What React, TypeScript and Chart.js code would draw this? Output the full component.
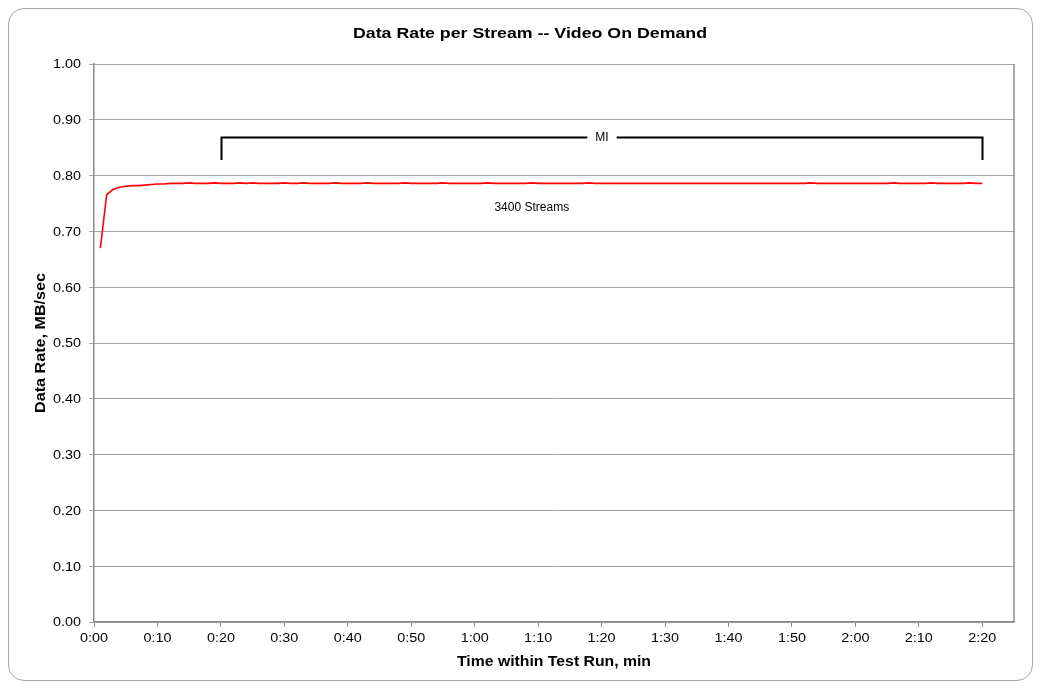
import React, { useEffect, useRef } from "react";
import { Chart, registerables } from "chart.js";

Chart.register(...registerables);

// Data rate per stream, MB/sec, one reading per second starting at 0:01
const rateValues: number[] = [
  0.670, 0.766, 0.775, 0.779, 0.781, 0.782, 0.782, 0.783, 0.784, 0.785,
  0.785, 0.786, 0.786, 0.786, 0.787, 0.786, 0.786, 0.786, 0.787, 0.786,
  0.786, 0.786, 0.787, 0.786, 0.787, 0.786, 0.786, 0.786, 0.786, 0.787,
  0.786, 0.786, 0.787, 0.786, 0.786, 0.786, 0.786, 0.787, 0.786, 0.786,
  0.786, 0.786, 0.787, 0.786, 0.786, 0.786, 0.786, 0.786, 0.787, 0.786,
  0.786, 0.786, 0.786, 0.786, 0.787, 0.786, 0.786, 0.786, 0.786, 0.786,
  0.786, 0.787, 0.786, 0.786, 0.786, 0.786, 0.786, 0.786, 0.787, 0.786,
  0.786, 0.786, 0.786, 0.786, 0.786, 0.786, 0.786, 0.787, 0.786, 0.786,
  0.786, 0.786, 0.786, 0.786, 0.786, 0.786, 0.786, 0.786, 0.786, 0.786,
  0.786, 0.786, 0.786, 0.786, 0.786, 0.786, 0.786, 0.786, 0.786, 0.786,
  0.786, 0.786, 0.786, 0.786, 0.786, 0.786, 0.786, 0.786, 0.786, 0.786,
  0.786, 0.786, 0.787, 0.786, 0.786, 0.786, 0.786, 0.786, 0.786, 0.786,
  0.786, 0.786, 0.786, 0.786, 0.786, 0.787, 0.786, 0.786, 0.786, 0.786,
  0.786, 0.787, 0.786, 0.786, 0.786, 0.786, 0.786, 0.787, 0.786, 0.786,
];
const secondsAxis: number[] = rateValues.map((_, i) => i + 1);

const xTickValues: number[] = [0, 10, 20, 30, 40, 50, 60, 70, 80, 90, 100, 110, 120, 130, 140];
const xTickLabels: string[] = [
  "0:00", "0:10", "0:20", "0:30", "0:40", "0:50", "1:00", "1:10",
  "1:20", "1:30", "1:40", "1:50", "2:00", "2:10", "2:20",
];
const yTickValues: number[] = [0, 0.1, 0.2, 0.3, 0.4, 0.5, 0.6, 0.7, 0.8, 0.9, 1.0];
const yTickLabels: string[] = ["0.00", "0.10", "0.20", "0.30", "0.40", "0.50", "0.60", "0.70", "0.80", "0.90", "1.00"];

const chartTitle = "Data Rate per Stream -- Video On Demand";
const xAxisTitle = "Time within Test Run, min";
const yAxisTitle = "Data Rate, MB/sec";

const miLabel = "MI";
const miStartSec = 20;
const miEndSec = 140;
const miTopValue = 0.869;
const miBottomValue = 0.828;
const streamsLabel = "3400 Streams";
const streamsLabelSec = 69;
const streamsLabelValue = 0.742;

const FONT = "'Liberation Sans', Arial, sans-serif";

function drawStretched(
  ctx: CanvasRenderingContext2D,
  text: string,
  x: number,
  y: number,
  font: string,
  align: CanvasTextAlign,
  targetWidth: number | null,
  sx: number,
  rotate = 0
) {
  ctx.save();
  ctx.font = font;
  ctx.fillStyle = "#000";
  ctx.textAlign = align;
  ctx.textBaseline = "middle";
  const w = ctx.measureText(text).width;
  const s = targetWidth ? targetWidth / w : sx;
  ctx.translate(x, y);
  if (rotate) ctx.rotate(rotate);
  ctx.scale(s, 1);
  ctx.fillText(text, 0, 0);
  ctx.restore();
}

const textPlugin = {
  id: "texts",
  afterDraw(chart: any) {
    const { ctx, chartArea, scales } = chart;
    const x = scales.x;
    const y = scales.y;
    ctx.save();
    // right plot border
    ctx.strokeStyle = "#8c8c8c";
    ctx.lineWidth = 1.5;
    ctx.beginPath();
    ctx.moveTo(chartArea.right, chartArea.top);
    ctx.lineTo(chartArea.right, chartArea.bottom);
    ctx.stroke();

    // MI bracket
    const x1 = Math.round(x.getPixelForValue(miStartSec)) + 0.5;
    const x2 = Math.round(x.getPixelForValue(miEndSec)) + 0.5;
    const yt = Math.round(y.getPixelForValue(miTopValue)) + 0.5;
    const yb = y.getPixelForValue(miBottomValue);
    ctx.strokeStyle = "#000";
    ctx.lineWidth = 2;
    ctx.beginPath();
    ctx.moveTo(x1, yb);
    ctx.lineTo(x1, yt);
    ctx.lineTo(x2, yt);
    ctx.lineTo(x2, yb);
    ctx.stroke();
    ctx.font = `12px ${FONT}`;
    const tw = ctx.measureText(miLabel).width;
    const cx = (x1 + x2) / 2;
    ctx.fillStyle = "#fff";
    ctx.fillRect(cx - tw / 2 - 8, yt - 8, tw + 16, 16);
    ctx.fillStyle = "#000";
    ctx.textAlign = "center";
    ctx.textBaseline = "middle";
    ctx.fillText(miLabel, cx, yt);
    ctx.fillText(
      streamsLabel,
      x.getPixelForValue(streamsLabelSec),
      y.getPixelForValue(streamsLabelValue)
    );
    ctx.restore();

    // tick labels
    const tickFont = `12px ${FONT}`;
    xTickValues.forEach((v, i) => {
      drawStretched(ctx, xTickLabels[i], x.getPixelForValue(v), chartArea.bottom + 17, tickFont, "center", null, 1.2);
    });
    yTickValues.forEach((v, i) => {
      drawStretched(ctx, yTickLabels[i], chartArea.left - 13, y.getPixelForValue(v) + 1, tickFont, "right", null, 1.2);
    });

    // titles
    drawStretched(ctx, chartTitle, 521, 25, `bold 15px ${FONT}`, "center", 354, 1);
    drawStretched(
      ctx,
      xAxisTitle,
      (chartArea.left + chartArea.right) / 2,
      chartArea.bottom + 40,
      `bold 14px ${FONT}`,
      "center",
      194,
      1
    );
    drawStretched(
      ctx,
      yAxisTitle,
      32,
      (chartArea.top + chartArea.bottom) / 2,
      `bold 14px ${FONT}`,
      "center",
      140,
      1,
      -Math.PI / 2
    );
  },
};

export default function App() {
  const canvasRef = useRef<HTMLCanvasElement>(null);

  useEffect(() => {
    if (!canvasRef.current) return;
    const chart = new Chart(canvasRef.current, {
      type: "line",
      data: {
        datasets: [
          {
            label: streamsLabel,
            data: secondsAxis.map((s, i) => ({ x: s, y: rateValues[i] })),
            borderColor: "#ff0000",
            borderWidth: 1.6,
            pointRadius: 0,
            tension: 0,
            fill: false,
          },
        ],
      },
      options: {
        responsive: false,
        animation: false,
        layout: { padding: { left: 0, right: 18, top: 55, bottom: 0 } },
        plugins: {
          legend: { display: false },
          tooltip: { enabled: false },
          title: { display: false },
        },
        scales: {
          x: {
            type: "linear",
            min: 0,
            max: 145,
            afterFit: (s: any) => {
              s.height = 58;
            },
            afterBuildTicks: (s: any) => {
              s.ticks = xTickValues.map((v) => ({ value: v }));
            },
            ticks: { display: false, includeBounds: false, autoSkip: false },
            grid: {
              drawOnChartArea: false,
              drawTicks: true,
              tickLength: 5,
              color: "#8c8c8c",
            },
            border: { display: true, color: "#8c8c8c", width: 1.5 },
          },
          y: {
            min: 0,
            max: 1,
            afterFit: (s: any) => {
              s.width = 85;
            },
            afterBuildTicks: (s: any) => {
              s.ticks = yTickValues.map((v) => ({ value: v }));
            },
            ticks: { display: false },
            grid: {
              color: "#a6a6a6",
              tickLength: 5,
              lineWidth: 1,
            },
            border: { display: true, color: "#8c8c8c", width: 1.5 },
          },
        },
      },
      plugins: [textPlugin],
    });
    return () => chart.destroy();
  }, []);

  return (
    <div
      style={{
        width: 1025,
        height: 673,
        boxSizing: "border-box",
        border: "1px solid #a6a6a6",
        borderRadius: 16,
        overflow: "hidden",
        background: "#fff",
      }}
    >
      <canvas ref={canvasRef} width={1023} height={671} style={{ display: "block" }} />
    </div>
  );
}
